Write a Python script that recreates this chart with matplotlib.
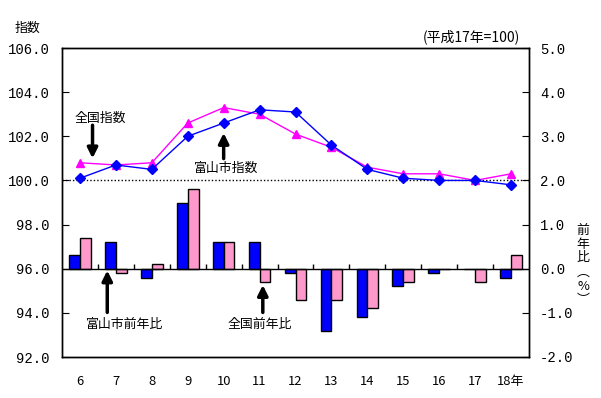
import matplotlib
matplotlib.use("Agg")
import matplotlib.pyplot as plt
import numpy as np

plt.rcParams['font.family'] = ['Noto Sans CJK JP', 'DejaVu Sans']
plt.rcParams['axes.unicode_minus'] = False

# ---- data ----
years = ["6", "7", "8", "9", "10", "11", "12", "13", "14", "15", "16", "17", "18年"]

toyama_index = [100.1, 100.7, 100.5, 102.0, 102.6, 103.2, 103.1, 101.6, 100.5, 100.1, 100.0, 100.0, 99.8]
national_index = [100.8, 100.7, 100.8, 102.6, 103.3, 103.0, 102.1, 101.5, 100.6, 100.3, 100.3, 100.0, 100.3]

toyama_yoy = [0.3, 0.6, -0.2, 1.5, 0.6, 0.6, -0.1, -1.4, -1.1, -0.4, -0.1, 0.0, -0.2]
national_yoy = [0.7, -0.1, 0.1, 1.8, 0.6, -0.3, -0.7, -0.7, -0.9, -0.3, 0.0, -0.3, 0.3]

left_ticks = [92, 94, 96, 98, 100, 102, 104, 106]
right_ticks = [-2, -1, 0, 1, 2, 3, 4, 5]

BLUE = "#0000FF"
PINK = "#FF99CC"
MAGENTA = "#FF00FF"
FS = 9.3
NUM_FONT = ['Liberation Mono', 'DejaVu Sans Mono']

x = np.arange(len(years))

fig = plt.figure(figsize=(6.01, 3.98), dpi=100)
ax = fig.add_axes([62 / 601, 1 - 357 / 398, (529 - 62) / 601, (357 - 48) / 398])
ax2 = ax.twinx()

# bars on right axis (year-over-year %)
w = 0.3
ax2.bar(x - w / 2, toyama_yoy, w, color=BLUE, edgecolor="black", linewidth=1, zorder=2)
ax2.bar(x + w / 2, national_yoy, w, color=PINK, edgecolor="black", linewidth=1, zorder=2)
ax2.axhline(0, color="black", lw=1, zorder=3)
ax2.vlines(x[:-1] + 0.5, 0, 0.1, color="black", lw=1, zorder=3)
ax2.set_ylim(-2, 5)
ax2.set_yticks(right_ticks)
ax2.set_yticklabels([f"{v:.1f}" for v in right_ticks], family=NUM_FONT, fontsize=10)
ax2.tick_params(axis="y", direction="in", length=5, pad=8)

# lines on left axis (index)
ax.set_zorder(ax2.get_zorder() + 1)
ax.patch.set_visible(False)
ax.axhline(100, color="black", lw=1, linestyle=(0, (1, 1.5)), zorder=1)
ax.plot(x, toyama_index, color=BLUE, lw=1, marker="D", markersize=5, zorder=4)
ax.plot(x, national_index, color=MAGENTA, lw=1, marker="^", markersize=6, zorder=3)
ax.set_ylim(92, 106)
ax.set_yticks(left_ticks)
ax.set_yticklabels([f"{v:.1f}" for v in left_ticks], family=NUM_FONT, fontsize=10)
ax.tick_params(axis="y", direction="in", length=5, pad=9)
ax.set_xlim(-0.5, len(years) - 0.5)
ax.set_xticks(x)
ax.set_xticklabels(years, fontsize=FS)
ax.tick_params(axis="x", length=0, pad=13)

for a in (ax, ax2):
    for s in a.spines.values():
        s.set_linewidth(1)

# annotations
arrow = dict(arrowstyle="-|>,head_length=0.6,head_width=0.3", lw=2.5, color="black",
             shrinkA=0, shrinkB=0)
ax.text(0.56, 102.83, "全国指数", ha="center", va="center", fontsize=FS)
ax.annotate("", xy=(0.35, 101.0), xytext=(0.35, 102.5), arrowprops=arrow)
ax.text(4.08, 100.55, "富山市指数", ha="center", va="center", fontsize=FS)
ax.annotate("", xy=(4.0, 102.15), xytext=(4.0, 100.99), arrowprops=arrow)
ax2.text(1.25, -1.26, "富山市前年比", ha="center", va="center", fontsize=FS)
ax2.annotate("", xy=(0.76, -0.04), xytext=(0.76, -0.99), arrowprops=arrow)
ax2.text(5.0, -1.26, "全国前年比", ha="center", va="center", fontsize=FS)
ax2.annotate("", xy=(5.09, -0.37), xytext=(5.09, -0.99), arrowprops=arrow)

fig.text(27 / 601, 1 - 28 / 398, "指数", ha="center", va="center", fontsize=FS)
fig.text(471 / 601, 1 - 37 / 398, "(平成17年=100)", ha="center", va="center", fontsize=10)
fig.text(583 / 601, 1 - 265 / 398, "前\n年\n比\n︵\n%\n︶", ha="center", va="center",
         fontsize=FS, linespacing=1.1)

fig.savefig("out.png", dpi=100)
